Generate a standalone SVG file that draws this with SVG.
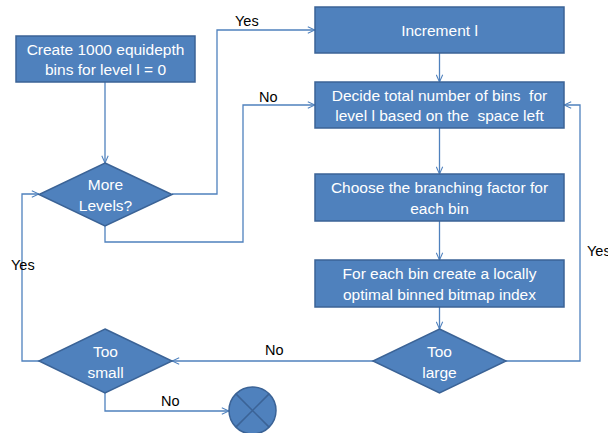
<svg xmlns="http://www.w3.org/2000/svg" width="608" height="433" viewBox="0 0 608 433">
  <style>
    .box { fill: #4F81BD; stroke: #3B6396; stroke-width: 1.5; }
    .txt { font-family: "Liberation Sans", Arial, sans-serif; font-size: 15.5px; fill: #FFFFFF; text-anchor: middle; white-space: pre; }
    .lbl { font-family: "Liberation Sans", Arial, sans-serif; font-size: 14.5px; fill: #000000; }
    .edge { fill: none; stroke: #4F81BD; stroke-width: 1.3; marker-end: url(#arr); }
  </style>
  <defs>
    <marker id="arr" viewBox="0 0 10 10" refX="10" refY="5" markerWidth="8" markerHeight="8" markerUnits="userSpaceOnUse" orient="auto">
      <path d="M1,1 L10,5 L1,9" fill="none" stroke="#4F81BD" stroke-width="1.3"/>
    </marker>
  </defs>
  <rect width="608" height="433" fill="#FFFFFF"/>

  <g id="connectors">
    <path class="edge" d="M105,82 V163"/>
    <path class="edge" d="M172,194 H217 V30 H315"/>
    <path class="edge" d="M105,226 V242 H243 V105 H315"/>
    <path class="edge" d="M439.5,53 V82"/>
    <path class="edge" d="M439.5,128 V174"/>
    <path class="edge" d="M439.5,221 V260"/>
    <path class="edge" d="M439.5,307 V329"/>
    <path class="edge" d="M506,361 H580 V105 H564"/>
    <path class="edge" d="M373,361 H172"/>
    <path class="edge" d="M39,361 H22 V194 H39"/>
    <path class="edge" d="M105,393 V411 H229"/>
    <text class="lbl" x="235" y="26">Yes</text>
    <text class="lbl" x="259" y="102">No</text>
    <text class="lbl" x="587" y="256">Yes</text>
    <text class="lbl" x="11" y="270">Yes</text>
    <text class="lbl" x="265" y="355">No</text>
    <text class="lbl" x="161" y="406">No</text>
  </g>

  <g id="create-bins">
    <rect class="box" x="16" y="36" width="179" height="46"/>
    <text class="txt" x="105.5" y="55">Create 1000 equidepth</text>
    <text class="txt" x="105.5" y="75">bins for level l = 0</text>
  </g>

  <g id="more-levels">
    <polygon class="box" points="105,163 172,194.5 105,226 39,194.5"/>
    <text class="txt" x="105.5" y="190">More</text>
    <text class="txt" x="105.5" y="211">Levels?</text>
  </g>

  <g id="increment">
    <rect class="box" x="315" y="7" width="249" height="46"/>
    <text class="txt" x="439.5" y="36">Increment l</text>
  </g>

  <g id="decide-bins">
    <rect class="box" x="315" y="82" width="249" height="46"/>
    <text class="txt" x="439.5" y="101">Decide total number of bins  for</text>
    <text class="txt" x="439.5" y="121">level l based on the  space left</text>
  </g>

  <g id="branching">
    <rect class="box" x="315" y="174" width="249" height="47"/>
    <text class="txt" x="439.5" y="193">Choose the branching factor for</text>
    <text class="txt" x="439.5" y="214">each bin</text>
  </g>

  <g id="bitmap-index">
    <rect class="box" x="315" y="260" width="249" height="47"/>
    <text class="txt" x="439.5" y="279">For each bin create a locally</text>
    <text class="txt" x="439.5" y="300">optimal binned bitmap index</text>
  </g>

  <g id="too-large">
    <polygon class="box" points="439.5,329 506,361 439.5,393 373,361"/>
    <text class="txt" x="439.5" y="357">Too</text>
    <text class="txt" x="439.5" y="378">large</text>
  </g>

  <g id="too-small">
    <polygon class="box" points="105,329 172,361 105,393 39,361"/>
    <text class="txt" x="105.5" y="357">Too</text>
    <text class="txt" x="105.5" y="378">small</text>
  </g>

  <g id="end">
    <circle class="box" cx="252.5" cy="410.5" r="23.5"/>
    <path d="M235.9,393.9 L269.1,427.1 M269.1,393.9 L235.9,427.1" stroke="#3B6396" stroke-width="1.5" fill="none"/>
  </g>
</svg>
